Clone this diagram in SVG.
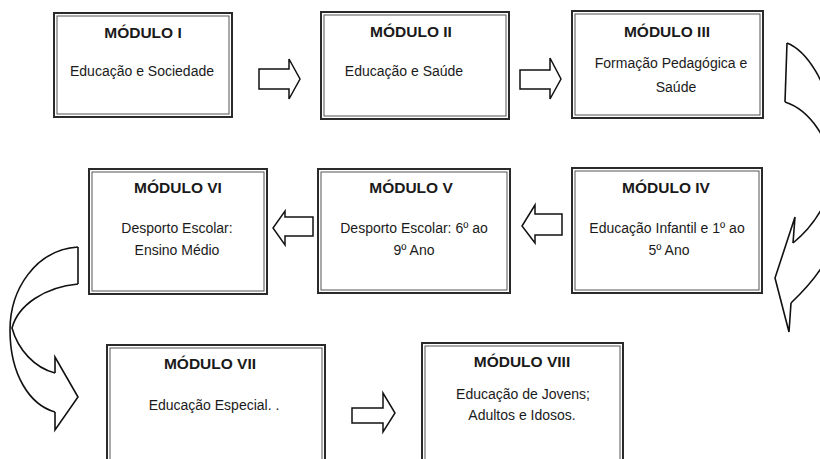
<svg xmlns="http://www.w3.org/2000/svg" width="820" height="459" viewBox="0 0 820 459">
<style>
.outer{fill:#fff;stroke:#2a2a2a;stroke-width:2}
.inner{fill:none;stroke:#555;stroke-width:1}
.title{font-family:"Liberation Sans",Arial,sans-serif;font-weight:bold;font-size:15.5px;fill:#1a1a1a;text-anchor:middle}
.body{font-family:"Liberation Sans",Arial,sans-serif;font-size:14px;fill:#1a1a1a;text-anchor:middle}
.arrow{fill:#fff;stroke:#111;stroke-width:1.5;stroke-linejoin:miter}
.curve{fill:none;stroke:#111;stroke-width:1.6;stroke-linejoin:miter}
</style>
<rect width="820" height="459" fill="#fff"/>
<g id="connectors">
<polygon class="arrow" points="259,69 289,69 289,59 300,79 289,99 289,89 259,89"/>
<polygon class="arrow" points="520,70 550,70 550,58 561,79 550,99 550,89 520,89"/>
<polygon class="arrow" points="562,214 535,214 535,205 522,226 535,243 535,235 562,235"/>
<polygon class="arrow" points="313,217 285,217 285,211 273,228 285,245 285,236 313,236"/>
<polygon class="arrow" points="352,408 383,408 383,393 395,413 383,432 383,423 352,423"/>
<g id="curve-right">
<path class="curve" d="M787,43 C830,60 855,170 838,230 C830,260 815,280 791,303"/>
<path class="curve" d="M785,102 C810,110 830,140 832,170 C834,195 815,225 793,243"/>
<path class="curve" d="M787,43 L785,102"/>
<path class="curve" d="M793,243 L795,217 L775,278 L789,332 L791,303"/>
</g>
<g id="curve-left">
<path class="curve" d="M78,247 C35,250 10,290 10,330 C10,375 30,405 55,412"/>
<path class="curve" d="M78,284 C45,287 18,305 12,328 C18,350 35,368 55,373"/>
<path class="curve" d="M78,247 L78,284"/>
<path class="curve" d="M55,373 L55,357 L78,397 L55,430 L55,412"/>
</g>
</g>
<g id="m1">
<rect class="outer" x="54" y="13" width="178" height="104"/>
<rect class="inner" x="57" y="16" width="172" height="98"/>
<text class="title" x="143" y="38">MÓDULO I</text>
<text class="body" x="142" y="76">Educação e Sociedade</text>
</g>
<g id="m2">
<rect class="outer" x="321" y="12" width="188" height="107"/>
<rect class="inner" x="324" y="15" width="182" height="101"/>
<text class="title" x="411" y="37">MÓDULO II</text>
<text class="body" x="404" y="76">Educação e Saúde</text>
</g>
<g id="m3">
<rect class="outer" x="572" y="11" width="191" height="107"/>
<rect class="inner" x="575" y="14" width="185" height="101"/>
<text class="title" x="667" y="37">MÓDULO III</text>
<text class="body" x="671" y="68">Formação Pedagógica e</text>
<text class="body" x="676" y="92">Saúde</text>
</g>
<g id="m4">
<rect class="outer" x="572" y="168" width="190" height="125"/>
<rect class="inner" x="575" y="171" width="184" height="119"/>
<text class="title" x="666" y="193">MÓDULO IV</text>
<text class="body" x="667" y="233">Educação Infantil e 1º ao</text>
<text class="body" x="669" y="255">5º Ano</text>
</g>
<g id="m5">
<rect class="outer" x="318" y="169" width="192" height="124"/>
<rect class="inner" x="321" y="172" width="186" height="118"/>
<text class="title" x="411" y="193">MÓDULO V</text>
<text class="body" x="414" y="233">Desporto Escolar: 6º ao</text>
<text class="body" x="414" y="255">9º Ano</text>
</g>
<g id="m6">
<rect class="outer" x="89" y="169" width="178" height="125"/>
<rect class="inner" x="92" y="172" width="172" height="119"/>
<text class="title" x="178" y="193">MÓDULO VI</text>
<text class="body" x="177" y="233">Desporto Escolar:</text>
<text class="body" x="177" y="255">Ensino Médio</text>
</g>
<g id="m7">
<rect class="outer" x="107" y="345" width="218" height="130"/>
<rect class="inner" x="110" y="348" width="212" height="124"/>
<text class="title" x="210" y="369">MÓDULO VII</text>
<text class="body" x="214" y="410">Educação Especial. .</text>
</g>
<g id="m8">
<rect class="outer" x="422" y="343" width="201" height="130"/>
<rect class="inner" x="425" y="346" width="195" height="124"/>
<text class="title" x="522" y="367">MÓDULO VIII</text>
<text class="body" x="523" y="399">Educação de Jovens;</text>
<text class="body" x="522" y="420">Adultos e Idosos.</text>
</g>
</svg>
